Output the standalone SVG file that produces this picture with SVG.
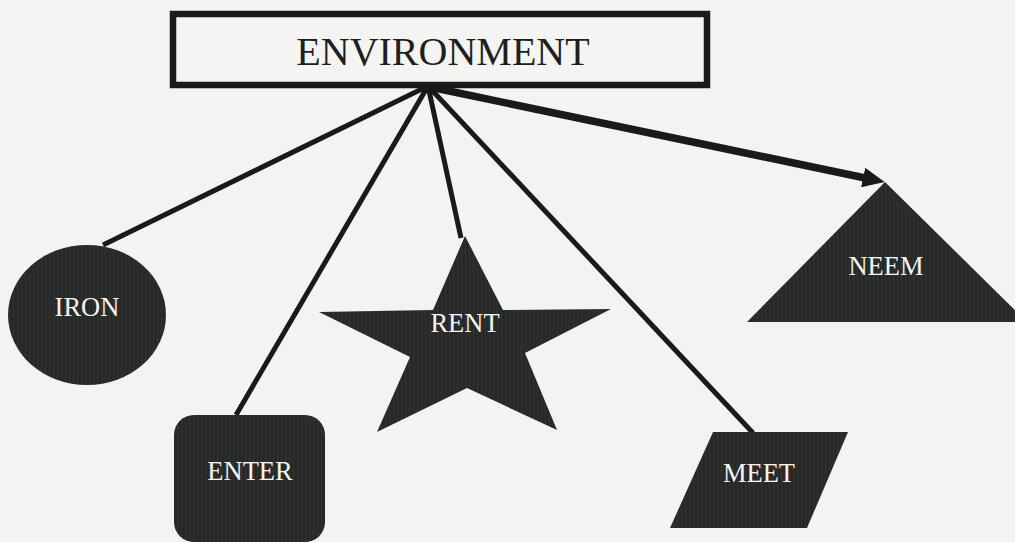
<svg xmlns="http://www.w3.org/2000/svg" width="1015" height="542" viewBox="0 0 1015 542">
  <style>
    .bg { fill: #f3f3f1; }
    .title-box { fill: #f4f4f2; stroke: #1a1a1a; stroke-width: 6.5; }
    .title { font-family: "Liberation Serif", "Times New Roman", serif; font-size: 40px; fill: #1e1e1e; text-anchor: middle; }
    .shape { fill: url(#scan); }
    .label { font-family: "Liberation Serif", "Times New Roman", serif; font-size: 26.5px; fill: #f4f4f2; text-anchor: middle; }
    .link { stroke: #1a1a1a; stroke-width: 5; fill: none; stroke-linecap: butt; }
    .link-main { stroke: #1a1a1a; stroke-width: 7.5; fill: none; }
  </style>
  <defs>
    <pattern id="scan" patternUnits="userSpaceOnUse" width="4" height="4">
      <rect width="4" height="4" fill="#272828"/>
      <rect x="1" width="1" height="4" fill="#323434"/>
    </pattern>
    <marker id="arrow" markerUnits="userSpaceOnUse" markerWidth="24" markerHeight="20" refX="7" refY="10" orient="auto">
      <path d="M0,0 L22,10 L0,20 z" fill="#1a1a1a"/>
    </marker>
  </defs>

  <rect class="bg" x="0" y="0" width="1015" height="542"/>

  <g id="connectors">
    <line class="link" x1="428" y1="86" x2="103" y2="245"/>
    <line class="link" x1="428" y1="86" x2="236" y2="415"/>
    <line class="link" x1="428" y1="86" x2="461" y2="238"/>
    <line class="link" x1="428" y1="86" x2="753" y2="433"/>
    <line class="link-main" x1="430" y1="87" x2="870" y2="179" marker-end="url(#arrow)"/>
  </g>

  <g id="environment">
    <rect class="title-box" x="173" y="14" width="534" height="71"/>
    <text class="title" x="443" y="65">ENVIRONMENT</text>
  </g>

  <g id="iron">
    <ellipse class="shape" cx="87" cy="315" rx="79" ry="70"/>
    <text class="label" x="87" y="316">IRON</text>
  </g>

  <g id="enter">
    <rect class="shape" x="174" y="415" width="151" height="127" rx="20" ry="20"/>
    <text class="label" x="250" y="480">ENTER</text>
  </g>

  <g id="rent">
    <polygon class="shape" points="465,236 503,310 611,309 525,353 557,430 467,388 377,432 410,357 319,312 433,310"/>
    <text class="label" x="465" y="332">RENT</text>
  </g>

  <g id="meet">
    <polygon class="shape" points="713,432 848,432 807,528 670,528"/>
    <text class="label" x="759" y="482">MEET</text>
  </g>

  <g id="neem">
    <polygon class="shape" points="885,182 747,322 1027,322"/>
    <text class="label" x="886" y="275">NEEM</text>
  </g>
</svg>
